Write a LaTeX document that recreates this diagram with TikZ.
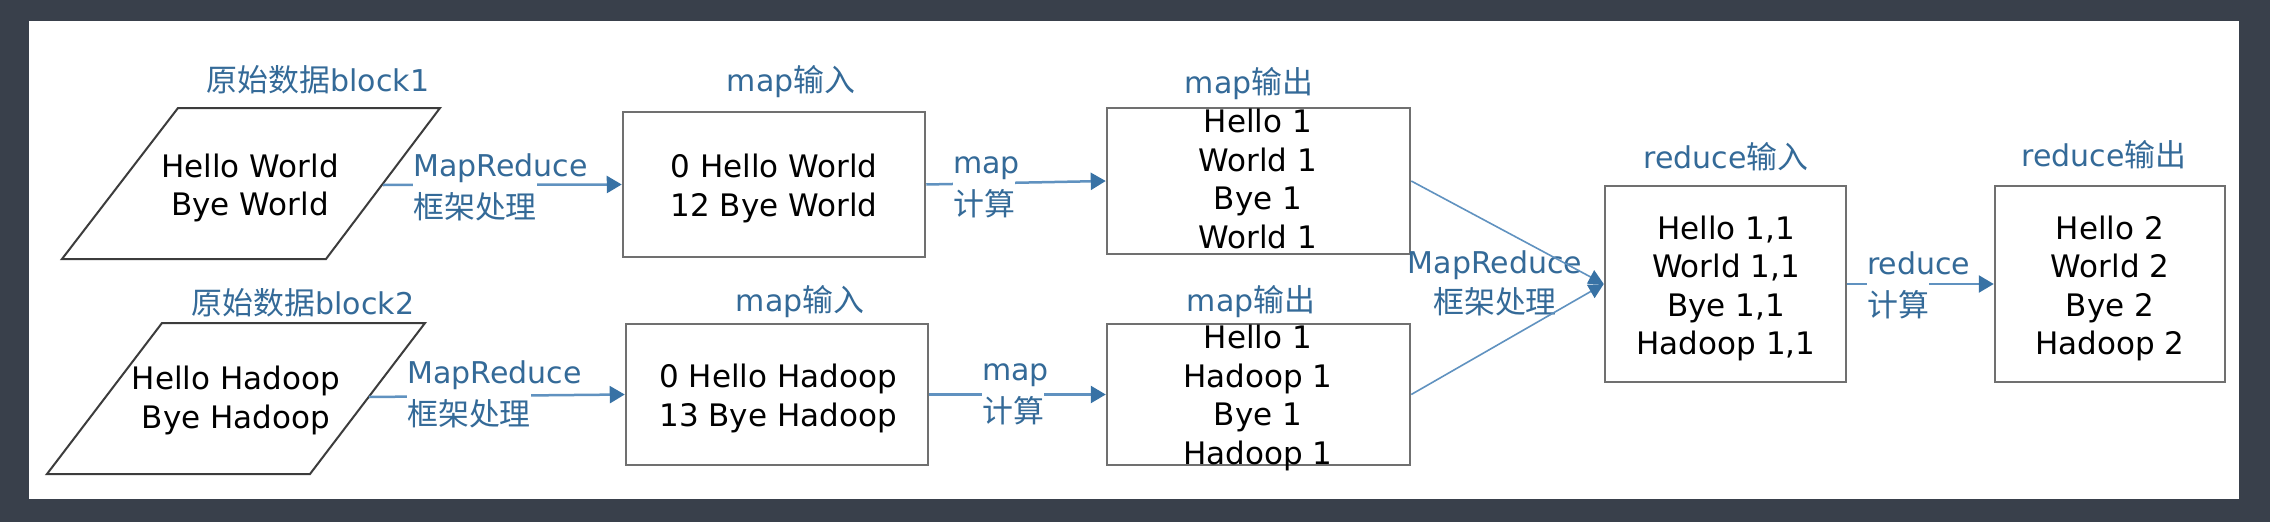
\documentclass[tikz,border=0pt]{standalone}
\usepackage{fontspec}
\setmainfont{DejaVu Sans}
\newfontfamily\cjk{Noto Sans CJK SC}[Scale=1.03]
\usetikzlibrary{arrows.meta}
\definecolor{darkbg}{RGB}{57,64,75}
\definecolor{lblblue}{RGB}{52,106,152}
\definecolor{lineblue}{RGB}{96,146,192}
\definecolor{tipblue}{RGB}{56,114,165}
\definecolor{boxgray}{RGB}{112,112,112}
\definecolor{paragray}{RGB}{60,60,60}
\newcommand{\zh}[1]{{\cjk #1}}
\tikzset{
  box/.style={draw=boxgray, line width=2.5pt, fill=white, inner sep=0pt},
  para/.style={draw=paragray, line width=2pt, fill=white, line join=miter},
  txt/.style={font=\fontsize{31}{38.5}\selectfont, align=center, inner sep=0pt, text=black},
  ttl/.style={font=\fontsize{30}{36}\selectfont, text=lblblue, inner sep=0pt},
  lbl/.style={font=\fontsize{30}{42}\selectfont, text=lblblue, align=left, fill=white, inner xsep=0pt, inner ysep=1pt, anchor=west},
  midlbl/.style={font=\fontsize{30}{40}\selectfont, text=lblblue, align=center, inner sep=0pt},
  conn/.style={draw=lineblue, line width=2.5pt, -{Triangle[length=15pt,width=17pt,color=tipblue]}},
  thinconn/.style={draw=lineblue, line width=1.6pt, -{Triangle[length=15pt,width=15pt,color=tipblue]}},
}
\begin{document}
\begin{tikzpicture}[x=1pt,y=-1pt]
\useasboundingbox (0,0) rectangle (2270,522);
\fill[darkbg] (0,0) rectangle (2270,522);
\fill[white] (29,21) rectangle (2239,499);

% parallelograms (raw data blocks)
\draw[para] (178,108) -- (440,108) -- (326,259) -- (62,259) -- cycle;
\draw[para] (162,323) -- (425,323) -- (310,474) -- (47,474) -- cycle;
\coordinate (p1r) at (383,185);
\coordinate (p2r) at (369,397);
\node[txt] (p1) at (250,188) {Hello World\\Bye World};
\node[txt] (p2) at (236,400.5) {Hello Hadoop\\Bye Hadoop};
\node[ttl] (t1) at (318,80) {\zh{原始数据}block1};
\node[ttl] (t2) at (303,303) {\zh{原始数据}block2};

% boxes
\node[box, minimum width=302pt, minimum height=145pt] (mi1) at (774,184.5) {};
\node[box, minimum width=302pt, minimum height=141pt] (mi2) at (777,394.5) {};
\node[box, minimum width=303pt, minimum height=146pt] (mo1) at (1258.5,181) {};
\node[box, minimum width=303pt, minimum height=141pt] (mo2) at (1258.5,394.5) {};
\node[box, minimum width=241pt, minimum height=196pt] (ri) at (1725.5,284) {};
\node[box, minimum width=230pt, minimum height=196pt] (ro) at (2110,284) {};

% titles
\node[ttl] (mi1t) at (791,82) {map\zh{输入}};
\node[ttl] (mi2t) at (800,302) {map\zh{输入}};
\node[ttl] (mo1t) at (1249,84) {map\zh{输出}};
\node[ttl] (mo2t) at (1251,302) {map\zh{输出}};
\node[ttl] (rit) at (1726,157) {reduce\zh{输入}};
\node[ttl] (rot) at (2104,155) {reduce\zh{输出}};

% middle label (under the lines)
\node[midlbl] (lmid) at (1495,283.5) {MapReduce\\\zh{框架处理}};

% connectors
\draw[conn] (p1r) -- (mi1.west);
\draw[conn] (p2r) -- (mi2.west);
\draw[conn] (mi1.east) -- (mo1.west);
\draw[conn] (mi2.east) -- (mo2.west);
\draw[thinconn] (mo1.east) -- (ri.west);
\draw[thinconn] (mo2.east) -- (ri.west);
\draw[conn] (ri.east) -- (ro.west);

% connector labels
\node[lbl] (l1) at (413,187.5) {\rlap{MapReduce}\\\zh{框架处理}};
\node[lbl] (l2) at (407,394) {\rlap{MapReduce}\\\zh{框架处理}};
\node[lbl] (lm1) at (953,187) {\rlap{map}\\\zh{计算}};
\node[lbl] (lm2) at (982,394) {\rlap{map}\\\zh{计算}};
\node[lbl] (lr) at (1867,285) {\rlap{reduce}\\\zh{计算}};

% box texts
\node[txt] (mi1x) at (774,188.5) {0 Hello World\\12 Bye World};
\node[txt] (mi2x) at (778,398.5) {0 Hello Hadoop\\13 Bye Hadoop};
\node[txt] (mo1x) at (1258,179) {Hello 1\\World 1\\Bye 1\\World 1};
\node[txt] (mo2x) at (1258,398) {Hello 1\\Hadoop 1\\Bye 1\\Hadoop 1};
\node[txt] (rix) at (1726,288.5) {Hello 1,1\\World 1,1\\Bye 1,1\\Hadoop 1,1};
\node[txt] (rox) at (2110,288.5) {Hello 2\\World 2\\Bye 2\\Hadoop 2};
\end{tikzpicture}
\end{document}
